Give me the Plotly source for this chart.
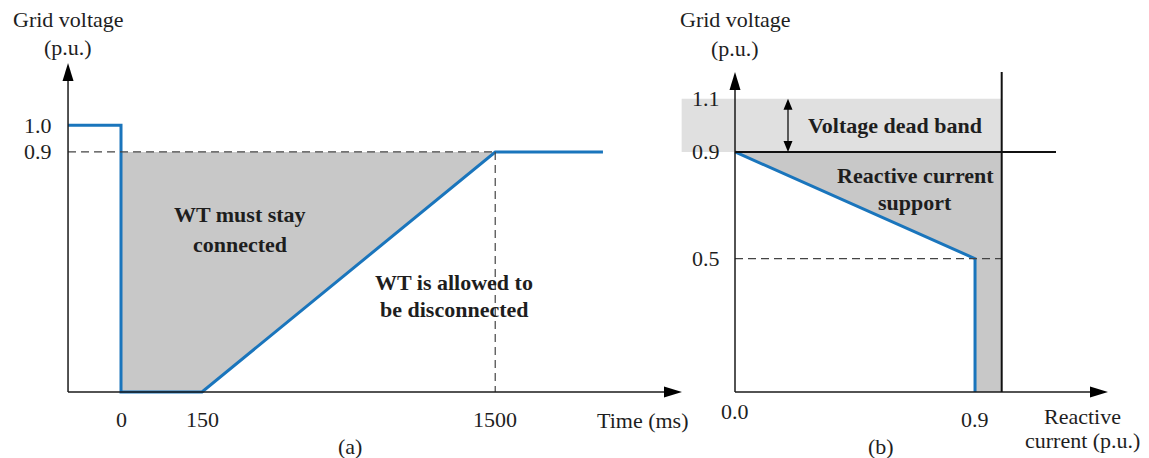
import plotly.graph_objects as go

# ---------------- Data ----------------
# Panel (a): LVRT requirement (schematic, non-proportional time axis)
time_tick_labels = ["0", "150", "1500"]
time_tick_pos = [0.0, 1.0, 4.62]
lvrt_time_pos = [-0.654, 0.0, 0.0, 1.0, 4.62, 5.95]
lvrt_voltage = [1.0, 1.0, 0.0, 0.0, 0.9, 0.9]
stay_region_time = [0.0, 4.62, 1.0, 0.0, 0.0]
stay_region_voltage = [0.9, 0.9, 0.0, 0.0, 0.9]
voltage_ticks_a = [1.0, 0.9]
voltage_tick_labels_a = ["1.0", "0.9"]

# Panel (b): reactive current support
reactive_current = [0.0, 0.9, 0.9]
support_voltage = [0.9, 0.5, 0.0]
support_region_current = [0.0, 1.0, 1.0, 0.9, 0.9, 0.0]
support_region_voltage = [0.9, 0.9, 0.0, 0.0, 0.5, 0.9]
dead_band_voltage = [0.9, 1.1]
dead_band_current = [-0.2, 1.0]
rated_current = 1.0
voltage_ticks_b = [1.1, 0.9, 0.5]
voltage_tick_labels_b = ["1.1", "0.9", "0.5"]
current_ticks = [0.0, 0.9]
current_tick_labels = ["0.0", "0.9"]

# ---------------- Layout geometry ----------------
VIEW_W, VIEW_H = 1149, 458
OFF = 8                       # page body margin of the html page
W, H = VIEW_W - OFF, VIEW_H - OFF
ORIG_Y = 392.0
V_SCALE = 266.7
A_ORIG_X, T_SCALE = 121.0, 81.0
B_ORIG_X, I_SCALE = 735.0, 266.7

xa_range = [(OFF - A_ORIG_X) / T_SCALE, (VIEW_W - A_ORIG_X) / T_SCALE]
xb_range = [(OFF - B_ORIG_X) / I_SCALE, (VIEW_W - B_ORIG_X) / I_SCALE]
y_range = [-(VIEW_H - ORIG_Y) / V_SCALE, (ORIG_Y - OFF) / V_SCALE]

FONT = "Liberation Serif, Times New Roman, serif"
TXT = "#1e1e1e"
BLUE = "#1a75bc"
GRAY = "#c8c8c8"
LIGHT = "#e0e0e0"
AX = "#1a1a1a"
DASH = "#444444"

fig = go.Figure()

fig.add_trace(go.Scatter(x=stay_region_time, y=stay_region_voltage, fill="toself",
                         fillcolor=GRAY, mode="lines", line=dict(width=0),
                         hoverinfo="skip", showlegend=False, xaxis="x", yaxis="y"))
db_x = [dead_band_current[0], dead_band_current[1], dead_band_current[1], dead_band_current[0], dead_band_current[0]]
db_y = [dead_band_voltage[0], dead_band_voltage[0], dead_band_voltage[1], dead_band_voltage[1], dead_band_voltage[0]]
fig.add_trace(go.Scatter(x=db_x, y=db_y, fill="toself", fillcolor=LIGHT, mode="lines",
                         line=dict(width=0), hoverinfo="skip", showlegend=False,
                         xaxis="x2", yaxis="y"))
fig.add_trace(go.Scatter(x=support_region_current, y=support_region_voltage, fill="toself",
                         fillcolor=GRAY, mode="lines", line=dict(width=0),
                         hoverinfo="skip", showlegend=False, xaxis="x2", yaxis="y"))

shapes = []
def line(x0, y0, x1, y1, xref, color=AX, width=1.5, dash=None):
    d = dict(type="line", xref=xref, yref="y", x0=x0, y0=y0, x1=x1, y1=y1,
             line=dict(color=color, width=width))
    if dash:
        d["line"]["dash"] = dash
    shapes.append(d)

def head(x, y, xref, direction, length=18, half=5.5):
    if direction == "right":
        path = f"M0,0 L{-length},{half} L{-length},{-half} Z"
    elif direction == "up":
        path = f"M0,0 L{-half},{-length} L{half},{-length} Z"
    else:
        path = f"M0,0 L{-half},{length} L{half},{length} Z"
    shapes.append(dict(type="path", xref=xref, yref="y", xsizemode="pixel", ysizemode="pixel",
                       xanchor=x, yanchor=y, path=path, fillcolor="black",
                       line=dict(width=0), layer="above"))

# ---- Panel (a) guides/axes ----
a_axis_x = lvrt_time_pos[0]
a_x_tip = (682 - A_ORIG_X) / T_SCALE
a_y_tip = (ORIG_Y - 63) / V_SCALE
line(a_axis_x, 0.9, time_tick_pos[2], 0.9, "x", DASH, 1.2, "8px,5px")
line(time_tick_pos[2], 0.9, time_tick_pos[2], 0, "x", DASH, 1.2, "8px,5px")
line(a_axis_x, 0, a_x_tip - 0.1, 0, "x")
line(a_axis_x, 0, a_axis_x, a_y_tip - 0.03, "x")
head(a_x_tip, 0, "x", "right")
head(a_axis_x, a_y_tip, "x", "up")

# ---- Panel (b) guides/axes ----
b_x_tip = (1108 - B_ORIG_X) / I_SCALE
b_y_tip = (ORIG_Y - 72) / V_SCALE
b_top = (ORIG_Y - 72) / V_SCALE
b_right = (1056 - B_ORIG_X) / I_SCALE
line(0, 0.5, rated_current, 0.5, "x2", DASH, 1.2, "8px,5px")
line(0, 0, b_x_tip - 0.03, 0, "x2")
line(0, 0, 0, b_y_tip - 0.03, "x2")
head(b_x_tip, 0, "x2", "right")
head(0, b_y_tip, "x2", "up")
line(rated_current, 0, rated_current, b_top, "x2", "#111111", 2)
line(0, 0.9, b_right, 0.9, "x2", "#111111", 2)
da_x = (788 - B_ORIG_X) / I_SCALE
line(da_x, dead_band_voltage[0] + 0.03, da_x, dead_band_voltage[1] - 0.03, "x2", "#111111", 1.3)
head(da_x, dead_band_voltage[1], "x2", "up", 11, 4.5)
head(da_x, dead_band_voltage[0], "x2", "down", 11, 4.5)

fig.add_trace(go.Scatter(x=lvrt_time_pos, y=lvrt_voltage, mode="lines",
                         line=dict(color=BLUE, width=3), hoverinfo="skip",
                         showlegend=False, xaxis="x", yaxis="y"))
fig.add_trace(go.Scatter(x=reactive_current, y=support_voltage, mode="lines",
                         line=dict(color=BLUE, width=3), hoverinfo="skip",
                         showlegend=False, xaxis="x2", yaxis="y"))

ann = []
def ptxt(text, px, py, size=22, bold=False, xanchor="center"):
    ann.append(dict(text=f"<b>{text}</b>" if bold else text, xref="paper", yref="paper",
                    x=(px - OFF) / W, y=1 - (py - OFF) / H, xanchor=xanchor, yanchor="middle",
                    showarrow=False, font=dict(family=FONT, size=size, color=TXT)))

def dtxt(text, x, y, xref, xanchor, xshift=0, yshift=0, size=22):
    ann.append(dict(text=text, xref=xref, yref="y", x=x, y=y, xanchor=xanchor,
                    yanchor="middle", xshift=xshift, yshift=yshift, showarrow=False,
                    font=dict(family=FONT, size=size, color=TXT)))

# Panel (a) texts
ptxt("Grid voltage", 68, 19)
ptxt("(p.u.)", 68, 47)
for v, lab in zip(voltage_ticks_a, voltage_tick_labels_a):
    dtxt(lab, a_axis_x, v, "x", "right", xshift=-14)
for t, lab in zip(time_tick_pos, time_tick_labels):
    dtxt(lab, t, 0, "x", "center", yshift=-27)
ptxt("Time (ms)", 642, 420)
ptxt("(a)", 350, 446)
ptxt("WT must stay", 240, 215, bold=True)
ptxt("connected", 240, 245, bold=True)
ptxt("WT is allowed to", 454, 282, bold=True)
ptxt("be disconnected", 454, 309, bold=True)

# Panel (b) texts
ptxt("Grid voltage", 735, 20)
ptxt("(p.u.)", 735, 48)
for v, lab in zip(voltage_ticks_b, voltage_tick_labels_b):
    dtxt(lab, 0, v, "x2", "right", xshift=-13)
dtxt(current_tick_labels[0], current_ticks[0], 0, "x2", "center", yshift=-19)
dtxt(current_tick_labels[1], current_ticks[1], 0, "x2", "center", yshift=-27)
ptxt("Reactive", 1082, 416)
ptxt("current (p.u.)", 1082, 440)
ptxt("(b)", 881, 446)
ptxt("Voltage dead band", 895, 125, bold=True)
ptxt("Reactive current", 915, 176, bold=True)
ptxt("support", 915, 202, bold=True)

axis_common = dict(visible=False, showgrid=False, zeroline=False, fixedrange=True)
fig.update_layout(
    width=W, height=H, autosize=False,
    margin=dict(l=0, r=0, t=0, b=0, pad=0),
    paper_bgcolor="white", plot_bgcolor="white",
    xaxis=dict(domain=[0, 1], range=xa_range, anchor="y", **axis_common),
    xaxis2=dict(domain=[0, 1], range=xb_range, anchor="y", overlaying="x", **axis_common),
    yaxis=dict(domain=[0, 1], range=y_range, anchor="x", **axis_common),
    shapes=shapes, annotations=ann, showlegend=False,
)

fig.write_html("out.html")
